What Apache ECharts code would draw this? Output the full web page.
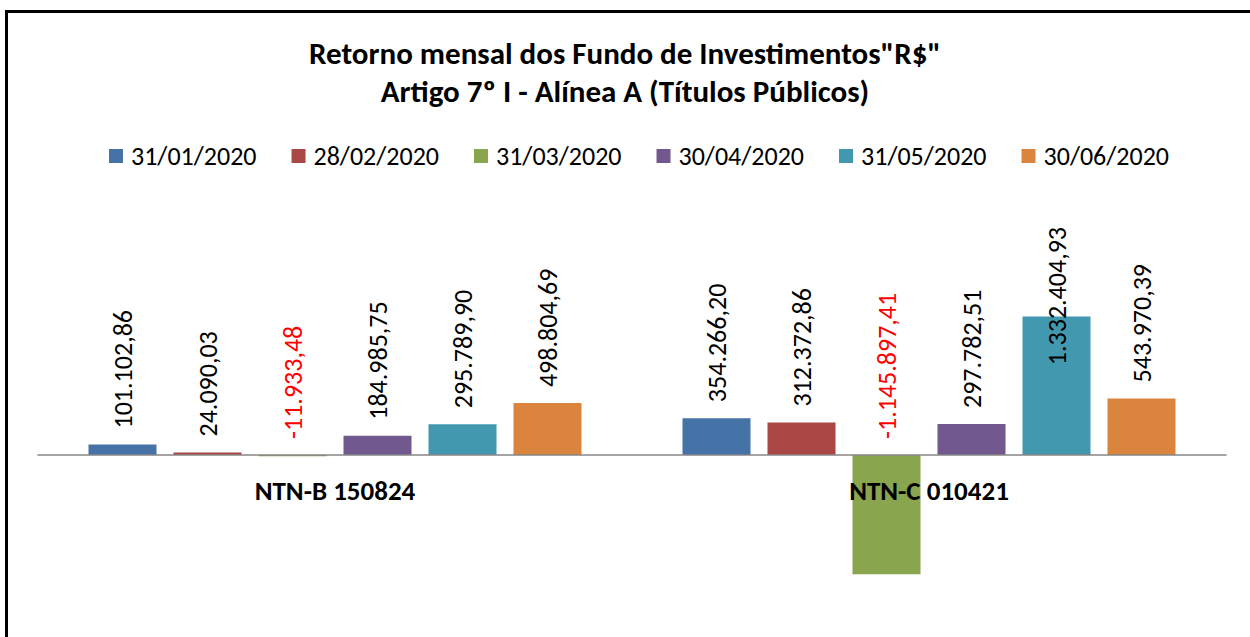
<!DOCTYPE html>
<html>
<head>
<meta charset="utf-8">
<script src="https://cdn.jsdelivr.net/npm/echarts@6/dist/echarts.min.js"></script>
<style>
  html, body { margin: 0; padding: 0; background: #fff; }
  #chart { width: 1250px; height: 637px; }
</style>
</head>
<body>
<div id="chart"></div>
<script>
var categories = ['NTN-B 150824', 'NTN-C 010421'];
var dates = ['31/01/2020', '28/02/2020', '31/03/2020', '30/04/2020', '31/05/2020', '30/06/2020'];
var jan = [101102.86, 354266.20];
var feb = [24090.03, 312372.86];
var mar = [-11933.48, -1145897.41];
var apr = [184985.75, 297782.51];
var may = [295789.90, 1332404.93];
var jun = [498804.69, 543970.39];
var colors = ['#4572A7', '#AA4643', '#89A54E', '#71588F', '#4198AF', '#DB843D'];

var font = 'Calibri, Carlito, "Open Sans", sans-serif';

// 1.234.567,89
function fmt(v) {
  var neg = v < 0;
  var parts = Math.abs(v).toFixed(2).split('.');
  var intPart = parts[0].replace(/\B(?=(\d{3})+(?!\d))/g, '.');
  return (neg ? '-' : '') + intPart + ',' + parts[1];
}

var seriesValues = [jan, feb, mar, apr, may, jun];
var labelTop = 227;

var series = seriesValues.map(function(vals, i) {
  return {
    name: dates[i],
    type: 'bar',
    barWidth: 68,
    barGap: '25%',
    itemStyle: { color: colors[i] },
    data: vals.map(function(v) {
      return {
        value: v,
        label: { color: v < 0 ? '#FF0000' : '#000' }
      };
    }),
    label: {
      show: true,
      position: 'top',
      rotate: 90,
      align: 'left',
      verticalAlign: 'middle',
      distance: 16,
      fontFamily: font,
      fontSize: 26,
      formatter: function(p) { return fmt(p.value); }
    },
    // keep labels inside the plot area, like the spreadsheet does
    labelLayout: function(p) {
      var r = p.labelRect;
      if (r.y < labelTop) {
        return { x: r.x + r.width / 2, y: labelTop + r.height };
      }
    }
  };
});

var chart = echarts.init(document.getElementById('chart'), null, { renderer: 'svg' });
chart.setOption({
  animation: false,
  backgroundColor: '#fff',
  color: colors,
  title: {
    text: 'Retorno mensal dos Fundo de Investimentos"R$"\nArtigo 7º I - Alínea A (Títulos Públicos)',
    left: 'center',
    top: 29,
    textStyle: { fontFamily: font, fontSize: 31, fontWeight: 'bold', color: '#000', lineHeight: 38 }
  },
  legend: {
    data: dates,
    top: 138,
    left: 104,
    itemWidth: 14,
    itemHeight: 14,
    itemGap: 35,
    icon: 'rect',
    textStyle: { fontFamily: font, fontSize: 26, color: '#000', padding: [0, 0, 0, 3] }
  },
  grid: { left: 38, right: 24, top: 195, bottom: 26, outerBoundsMode: 'none' },
  xAxis: {
    type: 'category',
    data: categories,
    z: 3,
    axisLine: { onZero: true, lineStyle: { color: '#868686', width: 1.5 } },
    axisTick: { show: false },
    // labels sit at the grid bottom here, pull them up under the zero line
    axisLabel: { color: '#000', fontFamily: font, fontSize: 27, fontWeight: 'bold', margin: -134 }
  },
  yAxis: {
    type: 'value',
    min: -1500000,
    max: 2500000,
    show: false
  },
  graphic: [{
    type: 'rect',
    shape: { x: 6.5, y: 11.5, width: 1300, height: 700 },
    style: { fill: 'none', stroke: '#000', lineWidth: 3 },
    silent: true
  }],
  series: series
});
</script>
</body>
</html>
